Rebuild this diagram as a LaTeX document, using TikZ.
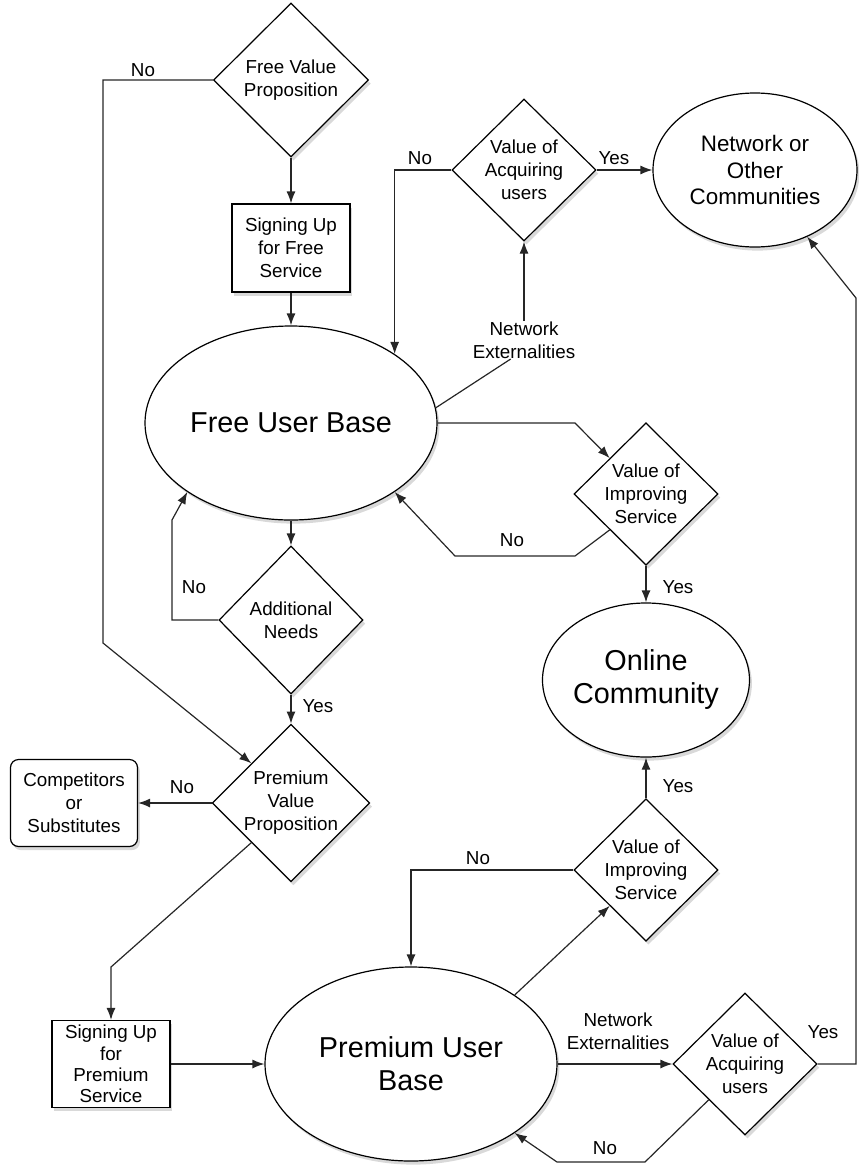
\documentclass[tikz,border=0pt]{standalone}
\usepackage{fontspec}
\setmainfont{Liberation Sans}
\usepackage{tikz}
\usetikzlibrary{shapes.geometric,arrows.meta,shadows}
\newcommand{\smallfont}{\fontsize{9.4}{11.5}\selectfont}
\newcommand{\bigfont}{\fontsize{14.4}{16.5}\selectfont}
\newcommand{\midfont}{\fontsize{11.2}{13.3}\selectfont}

\begin{document}
\begin{tikzpicture}[x=0.5pt,y=-0.5pt,line width=0.6pt,
    every node/.style={font=\smallfont,align=center,inner sep=0pt},
    dropsh/.style={drop shadow={opacity=.3,shadow xshift=1.2pt,shadow yshift=-1.8pt}},
    decision/.style={diamond,draw,fill=white,dropsh,minimum width=72pt,minimum height=71pt},
    userbase/.style={ellipse,draw,fill=white,dropsh,font=\bigfont},
    stepbox/.style={rectangle,draw,fill=white,dropsh,minimum width=59pt,minimum height=44pt},
    lbl/.style={font=\smallfont},
    arr/.style={draw=black!85,-{Latex[length=6pt,width=4.5pt]}}]
  \useasboundingbox (0,0) rectangle (858,1168);

  % free side
  \node[decision,minimum width=77.5pt,minimum height=77pt] (fvp) at (291,80) {Free Value\\Proposition};
  \node[stepbox] (signfree) at (291,248) {Signing Up\\for Free\\Service};
  \node[userbase,minimum width=146pt,minimum height=97pt] (fub) at (291,423) {Free User Base};
  \node[decision,minimum height=74pt] (addneeds) at (291,620) {Additional\\Needs};
  \node[decision,minimum width=78pt,minimum height=78pt] (pvp) at (291,803) {Premium\\Value\\Proposition};
  \node[stepbox,rounded corners=4pt,minimum width=63.5pt,minimum height=43.5pt] (comp) at (74,803) {Competitors\\or\\Substitutes};
  \node[stepbox,font=\fontsize{9.4}{10.6}\selectfont,minimum height=43.5pt] (signprem) at (111,1064) {Signing Up\\for\\Premium\\Service};

  % network side
  \node[decision] (vac1) at (524,170) {Value of\\Acquiring\\users};
  \node[userbase,font=\midfont,minimum width=102pt,minimum height=77pt] (netw) at (755,170) {Network or\\Other\\Communities};
  \node (netext1) at (524,340) {Network\\Externalities};
  \node[decision] (vis1) at (646,494) {Value of\\Improving\\Service};
  \node[userbase,minimum width=103.5pt,minimum height=77pt] (oc) at (646,680) {Online\\Community};
  \node[decision] (vis2) at (646,870) {Value of\\Improving\\Service};
  \node[userbase,minimum width=146pt,minimum height=97pt] (prem) at (411,1064) {Premium User\\Base};
  \node (netext2) at (618,1031) {Network\\Externalities};
  \node[decision] (vac2) at (745,1064) {Value of\\Acquiring\\users};

  % connectors
  \draw[arr] (fvp) -- (signfree);
  \draw[arr] (signfree) -- (fub);
  \draw[arr] (fvp.west) -| (103,643) -- (pvp.north west);
  \draw[arr] (fub) -- (addneeds);
  \draw[arr] (addneeds.west) -| (172,520) -- (fub.south west);
  \draw[arr] (addneeds) -- (pvp);
  \draw[arr] (pvp) -- (comp);
  \draw[arr] (pvp.south west) -- (111,967) -- (signprem.north);
  \draw[arr] (signprem) -- (prem);
  \draw[draw=black!85] (fub.6) -- (netext1.235);
  \draw[arr] (netext1) -- (vac1);
  \draw[arr] (vac1.west) -| (fub.north east);
  \draw[arr] (vac1) -- (netw);
  \draw[arr] (fub.east) -- (575,423) -- (vis1.north west);
  \draw[arr] (vis1.south west) -- (575,556) -- (455,556) -- (fub.south east);
  \draw[arr] (vis1) -- (oc);
  \draw[arr] (vis2) -- (oc);
  \draw[arr] (vis2.west) -| (prem.north);
  \draw[arr] (prem.north east) -- (vis2.south west);
  \draw[arr] (prem) -- (vac2);
  \draw[arr] (vac2.east) -| (856,298) -- (netw.-52);
  \draw[arr] (vac2.south west) -- (645,1162) -- (557,1162) -- (prem.south east);

  % labels
  \node[lbl] (no1) at (143,70) {No};
  \node[lbl] (no2) at (420,158) {No};
  \node[lbl] (yes1) at (614,158) {Yes};
  \node[lbl] (no3) at (194,587) {No};
  \node[lbl] (no4) at (512,540) {No};
  \node[lbl] (yes2) at (678,587) {Yes};
  \node[lbl] (yes3) at (318,706) {Yes};
  \node[lbl] (no5) at (182,787) {No};
  \node[lbl] (yes4) at (678,786) {Yes};
  \node[lbl] (no6) at (478,858) {No};
  \node[lbl] (yes5) at (823,1032) {Yes};
  \node[lbl] (no7) at (605,1148) {No};
\end{tikzpicture}
\end{document}
